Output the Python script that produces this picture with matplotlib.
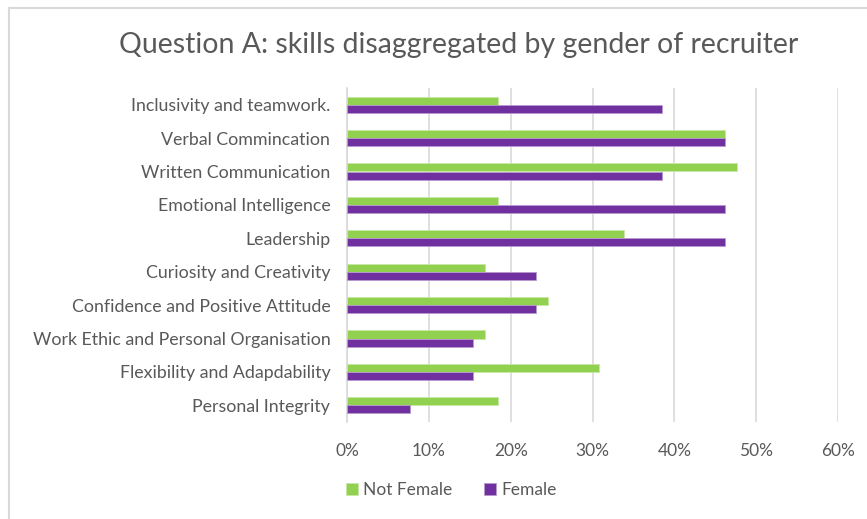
import numpy as np
import matplotlib.pyplot as plt
from matplotlib.lines import Line2D

plt.rcParams['font.family'] = ['Lato', 'DejaVu Sans']

skills = [
    "Inclusivity and teamwork.",
    "Verbal Commincation",
    "Written Communication",
    "Emotional Intelligence",
    "Leadership",
    "Curiosity and Creativity",
    "Confidence and Positive Attitude",
    "Work Ethic and Personal Organisation",
    "Flexibility and Adapdability",
    "Personal Integrity",
]
not_female = [18.5, 46.2, 47.7, 18.5, 33.8, 16.9, 24.6, 16.9, 30.8, 18.5]
female = [38.5, 46.2, 38.5, 46.2, 46.2, 23.1, 23.1, 15.4, 15.4, 7.7]
x_ticks = [0, 10, 20, 30, 40, 50, 60]

green = '#92d050'
purple = '#7030a0'
text_color = '#595959'

fig = plt.figure(figsize=(8.67, 5.19), dpi=100)
ax = fig.add_axes([347 / 867, 1 - 422 / 519, (838 - 347) / 867, (422 - 88) / 519])

y = np.arange(len(skills))
h = 0.24
ax.barh(y - h / 2, not_female, height=h, color=green, edgecolor='#c6e8a6', linewidth=0.6, label='Not Female', zorder=3)
ax.barh(y + h / 2, female, height=h, color=purple, edgecolor='#b89ad0', linewidth=0.6, label='Female', zorder=3)

ax.set_ylim(len(skills) - 0.5, -0.5)
ax.set_xlim(0, 60)
ax.set_yticks(y)
ax.set_yticklabels(skills, fontsize=12.8, color=text_color)
ax.set_xticks(x_ticks)
ax.set_xticklabels([f"{t}%" for t in x_ticks], fontsize=12.5, color=text_color)
ax.tick_params(length=0, pad=15)
ax.tick_params(axis='y', pad=12)
ax.grid(axis='x', color='#d9d9d9', linewidth=1.2, zorder=0)
for s in ['top', 'right', 'bottom']:
    ax.spines[s].set_visible(False)
ax.spines['left'].set_color('#d9d9d9')
ax.spines['left'].set_linewidth(1.2)

fig.text(0.529, 1 - 45 / 519, "Question A: skills disaggregated by gender of recruiter",
         ha='center', va='center', fontsize=20.5, color=text_color)

ax.legend(loc='center', bbox_to_anchor=(451 / 867, 1 - 490 / 519), bbox_transform=fig.transFigure,
          ncol=2, frameon=False, fontsize=12.5, labelcolor=text_color,
          handlelength=0.7, handleheight=0.7, handletextpad=0.3, columnspacing=1.8)

# chart frame (left and top edges visible)
fig.add_artist(Line2D([9 / 867, 9 / 867], [0, 1 - 8 / 519], color='#d9d9d9', linewidth=1.5, transform=fig.transFigure))
fig.add_artist(Line2D([9 / 867, 1], [1 - 8 / 519, 1 - 8 / 519], color='#d9d9d9', linewidth=1.5, transform=fig.transFigure))

fig.savefig('out.png', dpi=100)
